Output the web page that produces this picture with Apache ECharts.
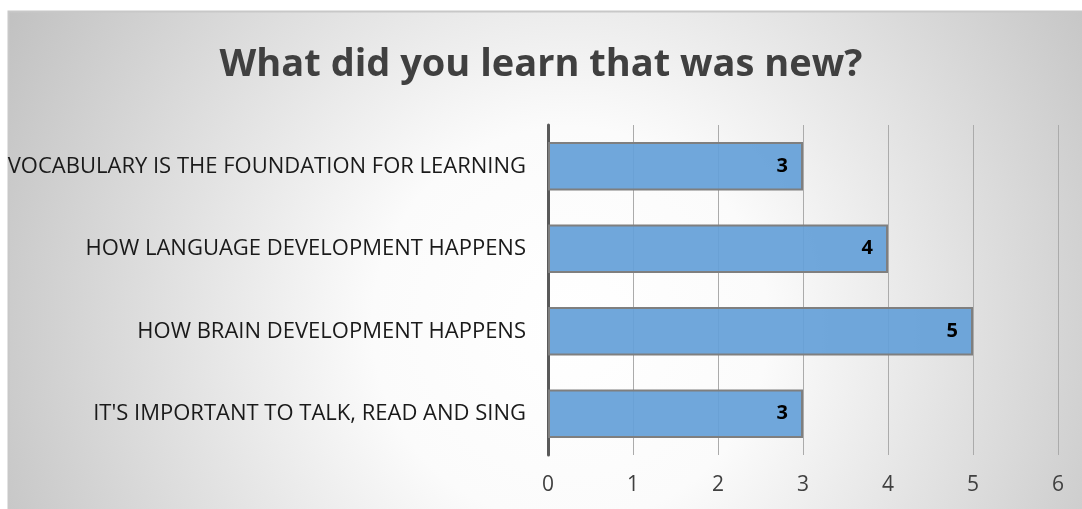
<!DOCTYPE html>
<html>
<head>
<meta charset="utf-8">
<script src="https://cdn.jsdelivr.net/npm/echarts@6/dist/echarts.min.js"></script>
<style>html,body{margin:0;padding:0;background:#fff;}#c{width:1082px;height:509px;}</style>
</head>
<body>
<div id="c"></div>
<script>
const titleText = 'What did you learn that was new?';
const categories = [
  "IT'S IMPORTANT TO TALK, READ AND SING",
  'HOW BRAIN DEVELOPMENT HAPPENS',
  'HOW LANGUAGE DEVELOPMENT HAPPENS',
  'VOCABULARY IS THE FOUNDATION FOR LEARNING'
];
const values = [3, 5, 4, 3];
const xTicks = [0, 1, 2, 3, 4, 5, 6];

const chart = echarts.init(document.getElementById('c'), null, {renderer: 'canvas'});
chart.setOption({
  backgroundColor: '#ffffff',
  animation: false,
  graphic: [{
    type: 'rect', z: -10, silent: true,
    shape: {x: 8.5, y: 11.5, width: 1080, height: 505},
    style: {
      fill: {type: 'radial', x: 0.52, y: 0.62, r: 1.3,
        colorStops: [{offset: 0, color: '#ffffff'}, {offset: 0.3, color: '#fbfbfb'}, {offset: 1, color: '#bfbfbf'}]},
      stroke: '#c8c8c8', lineWidth: 2
    }
  }],
  title: {
    text: titleText, left: 'center', top: 41,
    textStyle: {fontFamily: 'Open Sans', fontWeight: 'bold', fontSize: 38, color: '#404040'}
  },
  grid: {left: 548, right: 24, top: 125, bottom: 54, containLabel: false},
  xAxis: {
    type: 'value', min: 0, max: 6, interval: 1,
    axisLine: {show: false}, axisTick: {show: false},
    axisLabel: {fontFamily: 'Open Sans', fontSize: 21, color: '#404040', margin: 20,
      formatter: v => xTicks.includes(v) ? String(v) : ''},
    splitLine: {show: true, lineStyle: {color: '#ababab', width: 1}}
  },
  yAxis: {
    type: 'category', data: categories,
    axisLine: {show: true, lineStyle: {color: '#595959', width: 3}},
    axisTick: {show: false},
    axisLabel: {fontFamily: 'Open Sans', fontSize: 22, color: '#1a1a1a', margin: 22}
  },
  series: [{
    type: 'bar', data: values, barWidth: '59%',
    itemStyle: {color: 'rgba(100,160,216,0.92)', borderColor: '#7f7f7f', borderWidth: 2},
    label: {show: true, position: 'insideRight', distance: 15,
      fontFamily: 'Open Sans', fontWeight: 'bold', fontSize: 20, color: '#000'}
  }]
});
</script>
</body>
</html>
